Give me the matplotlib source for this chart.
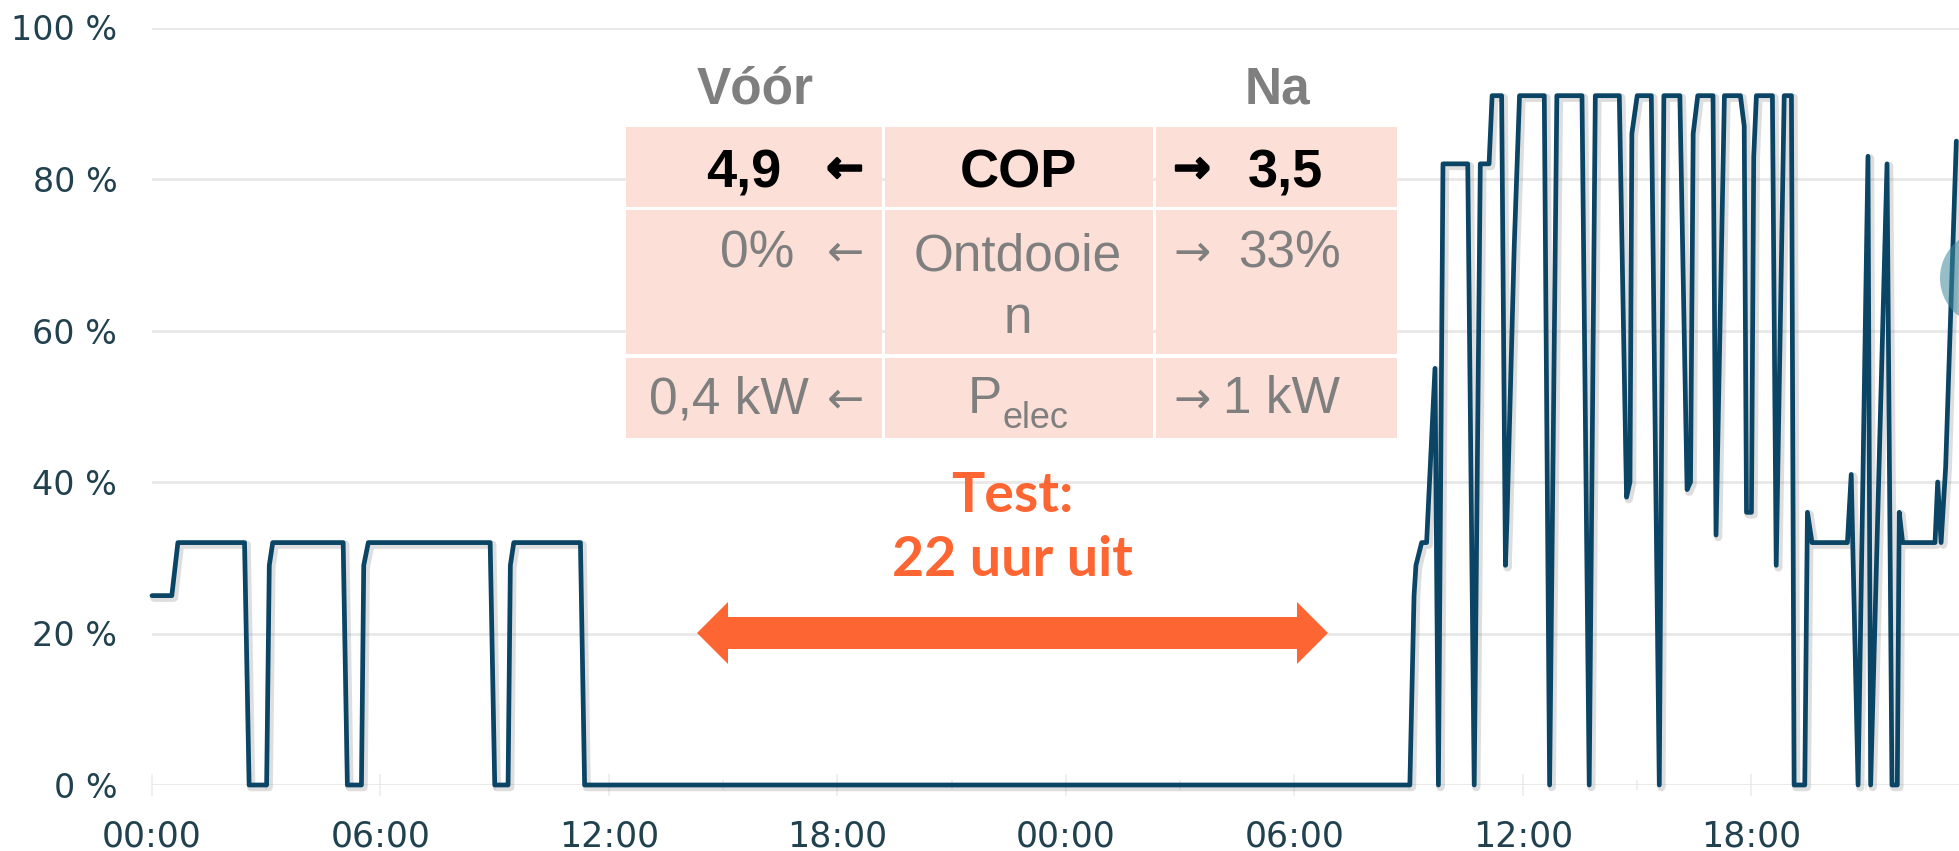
import matplotlib
matplotlib.use('Agg')
import matplotlib.pyplot as plt
from matplotlib.patches import Rectangle, Polygon, Ellipse
import matplotlib.patheffects as pe

W, H, DPI = 1959, 851, 100

# ---------------- data ----------------
hours = [0.00, 0.52, 0.68, 2.43, 2.55, 3.01, 3.08, 3.17, 5.02, 5.13, 5.50, 5.56, 5.68,
         8.88, 9.00, 9.35, 9.41, 9.50, 11.25, 11.36,
         33.03, 33.14, 33.19, 33.34, 33.47, 33.69, 33.78, 33.90, 34.55, 34.72,
         34.88, 35.11, 35.19, 35.44, 35.54, 35.58, 35.77, 35.91, 36.56, 36.70,
         36.89, 37.55, 37.74, 37.90, 38.53, 38.72, 38.81, 38.86, 39.00, 39.37,
         39.58, 39.70, 40.12, 40.31, 40.40, 40.47, 40.59, 40.99, 41.07, 41.29,
         41.71, 41.81, 41.87, 42.00, 42.06, 42.13, 42.55, 42.65, 42.86, 43.05,
         43.12, 43.40, 43.47, 43.59, 44.52, 44.62, 44.80, 45.06, 45.13, 45.56,
         45.69, 45.83, 45.88, 45.97, 46.82, 46.89, 46.98, 47.10, 47.38]
load = [25, 25, 32, 32, 0, 0, 29, 32, 32, 0, 0, 29, 32,
        32, 0, 0, 29, 32, 32, 0,
        0, 25, 29, 32, 32, 55, 0, 82, 82, 0,
        82, 82, 91, 91, 29, 35, 71, 91, 91, 0,
        91, 91, 0, 91, 91, 38, 40, 86, 91, 91,
        0, 91, 91, 39, 40, 86, 91, 91, 33, 91,
        91, 87, 36, 36, 83, 91, 91, 29, 91, 91,
        0, 0, 36, 32, 32, 41, 0, 83, 0, 82,
        0, 0, 36, 32, 32, 40, 32, 42, 85]

x_ticks = [0, 6, 12, 18, 24, 30, 36, 42]
x_minor = [3, 9, 15, 21, 27, 33, 39, 45]
x_labels = ['00:00', '06:00', '12:00', '18:00', '00:00', '06:00', '12:00', '18:00']
y_ticks = [0, 20, 40, 60, 80, 100]
y_labels = ['0 %', '20 %', '40 %', '60 %', '80 %', '100 %']

col_head = ['Vóór', 'Na']
row_names = ['COP', 'Ontdooie\nn', 'P']
before_vals = ['4,9', '0%', '0,4 kW']
after_vals = ['3,5', '33%', '1 kW']

# ---------------- figure ----------------
fig = plt.figure(figsize=(W / DPI, H / DPI), dpi=DPI)
fig.patch.set_facecolor('white')


def fx(x):
    return x / W


def fy(y):
    return 1 - y / H


ax = fig.add_axes([fx(152), fy(785), fx(W) - fx(152), fy(27.5) - fy(785)])
ax.set_xlim(0, 47.45)
ax.set_ylim(0, 100)
for s in ax.spines.values():
    s.set_visible(False)

TICK_COL = '#21414f'
ax.set_yticks(y_ticks)
ax.set_yticklabels(y_labels)
ax.set_xticks(x_ticks)
ax.set_xticklabels(x_labels)
ax.set_xticks(x_minor, minor=True)
ax.grid(axis='y', color='#e8e8e8', lw=2)
ax.set_axisbelow(True)
ax.tick_params(axis='y', length=0, pad=25, labelsize=24, labelcolor=TICK_COL)
ax.tick_params(axis='x', which='major', direction='inout', length=16, width=1.2,
               color='#ececec', pad=17, labelsize=25, labelcolor=TICK_COL)
ax.tick_params(axis='x', which='minor', direction='inout', length=7, width=1.2,
               color='#ececec')
for lab in ax.get_xticklabels() + ax.get_yticklabels():
    lab.set_family('DejaVu Sans')

ax.plot(hours, load, color='#0b4566', lw=3.4, solid_joinstyle='round',
        solid_capstyle='round', clip_on=False, zorder=3,
        path_effects=[pe.SimpleLineShadow(offset=(1.5, -1.5), shadow_color='#7f7f7f',
                                          alpha=0.25, linewidth=6),
                      pe.Normal()])

# hover highlight at right edge
fig.add_artist(Ellipse((fx(1988), fy(278)), 2 * 48 / W, 2 * 48 / H,
                       transform=fig.transFigure, color='#3f8a9c', alpha=0.55,
                       lw=0, zorder=4))

# ---------------- table ----------------
FILL = '#fce0d7'
cols = [(626, 882), (885, 1153), (1156, 1397)]
rows = [(126.5, 207), (210, 354), (357.5, 437.5)]
for (y0, y1) in rows:
    for (x0, x1) in cols:
        fig.add_artist(Rectangle((fx(x0), fy(y1)), fx(x1) - fx(x0), fy(y0) - fy(y1),
                                 transform=fig.transFigure, facecolor=FILL,
                                 edgecolor='none', zorder=2))

GRAY = '#7f7f7f'
FAM = ['Liberation Sans', 'DejaVu Sans']


def T(x, y, s, **kw):
    kw.setdefault('family', FAM)
    kw.setdefault('va', 'baseline')
    return fig.text(fx(x), fy(y), s, zorder=5, **kw)


# headers
T(755, 103, col_head[0], ha='center', fontsize=37, fontweight='bold', color=GRAY)
T(1277, 103, col_head[1], ha='center', fontsize=37, fontweight='bold', color=GRAY)

# row 1 (bold)
T(781, 187, before_vals[0], ha='right', fontsize=39, fontweight='bold', color='black')
T(1018, 187, row_names[0], ha='center', fontsize=39, fontweight='bold', color='black')
T(1248, 187, after_vals[0], ha='left', fontsize=39, fontweight='bold', color='black')

# row 2
T(794, 268, before_vals[1], ha='right', fontsize=37, color=GRAY)
T(1018, 270, 'Ontdooie', ha='center', fontsize=37, color=GRAY)
T(1018, 333, 'n', ha='center', fontsize=37, color=GRAY)
T(1238, 268, after_vals[1], ha='left', fontsize=37, color=GRAY)

# row 3
T(809, 413, before_vals[2], ha='right', fontsize=37, color=GRAY)
T(968, 413, row_names[2], ha='left', fontsize=37, color=GRAY)
T(1003, 428, 'elec', ha='left', fontsize=26, color=GRAY)
T(1223, 413, after_vals[2], ha='left', fontsize=37, color=GRAY)

# arrows
ARW = ['DejaVu Sans']
arrow_rows = [(167, 'black', 'bold'), (250, GRAY, 'normal'), (397, GRAY, 'normal')]
for i, (cy, c, wgt) in enumerate(arrow_rows):
    for ax_x, glyph in ((845, '←'), (1192, '→')):
        t = T(ax_x, cy + 15, glyph, ha='center', fontsize=32, color=c,
              fontweight=wgt, family=ARW)
        if i == 0:
            t.set_path_effects([pe.withStroke(linewidth=1.6, foreground=c)])

# ---------------- test annotation ----------------
ORANGE = '#fd6633'
T(1012, 512, 'Test:', ha='center', fontsize=40, fontweight='bold', color=ORANGE,
  family=['Lato', 'DejaVu Sans'])
T(1012, 576, '22 uur uit', ha='center', fontsize=40, fontweight='bold', color=ORANGE,
  family=['Lato', 'DejaVu Sans'])

pts = [(697, 633), (728, 602), (728, 617), (1297, 617), (1297, 602), (1328, 633),
       (1297, 664), (1297, 649), (728, 649), (728, 664)]
fig.add_artist(Polygon([(fx(a), fy(b)) for a, b in pts], closed=True,
                       transform=fig.transFigure, facecolor=ORANGE,
                       edgecolor='none', zorder=5))

fig.savefig('out.png', dpi=DPI, facecolor='white')
